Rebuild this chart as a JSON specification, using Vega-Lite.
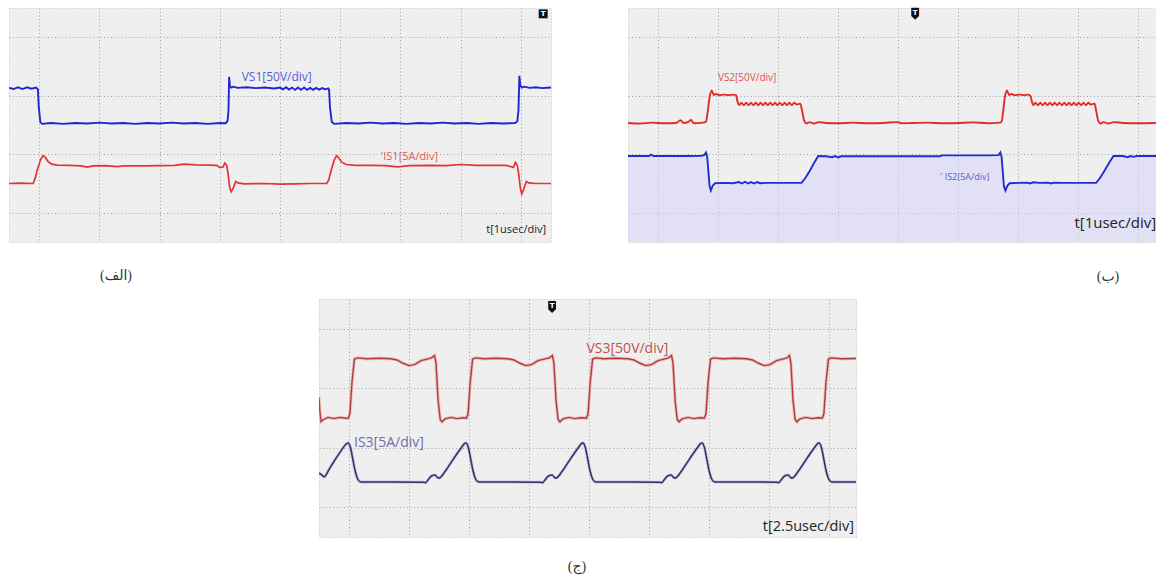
{
  "$schema": "https://vega.github.io/schema/vega-lite/v6.json",
  "padding": {"left": 8, "top": 7, "right": 0, "bottom": 0},
  "background": "white",
  "spacing": 13,
  "datasets": {
    "pa": [
      {"s":"VS1","x":0,"y":5.27},{"s":"VS1","x":0.15,"y":5.23},{"s":"VS1","x":0.3,"y":5.29},{"s":"VS1","x":0.45,"y":5.23},{"s":"VS1","x":0.6,"y":5.29},{"s":"VS1","x":0.75,"y":5.24},{"s":"VS1","x":0.9,"y":5.28},{"s":"VS1","x":0.96,"y":5.22},{"s":"VS1","x":0.99,"y":4.6},{"s":"VS1","x":1.04,"y":4.1},{"s":"VS1","x":1.1,"y":4.04},{"s":"VS1","x":1.4,"y":4.07},{"s":"VS1","x":1.8,"y":4.04},{"s":"VS1","x":2.2,"y":4.07},{"s":"VS1","x":2.6,"y":4.05},{"s":"VS1","x":3.0,"y":4.08},{"s":"VS1","x":3.4,"y":4.05},{"s":"VS1","x":3.8,"y":4.07},{"s":"VS1","x":4.2,"y":4.04},{"s":"VS1","x":4.6,"y":4.07},{"s":"VS1","x":5.0,"y":4.05},{"s":"VS1","x":5.4,"y":4.08},{"s":"VS1","x":5.8,"y":4.05},{"s":"VS1","x":6.2,"y":4.07},{"s":"VS1","x":6.6,"y":4.04},{"s":"VS1","x":7.0,"y":4.07},{"s":"VS1","x":7.2,"y":4.06},{"s":"VS1","x":7.26,"y":4.15},{"s":"VS1","x":7.29,"y":4.5},{"s":"VS1","x":7.31,"y":5.65},{"s":"VS1","x":7.34,"y":5.32},{"s":"VS1","x":7.38,"y":5.28},{"s":"VS1","x":7.45,"y":5.31},{"s":"VS1","x":7.6,"y":5.27},{"s":"VS1","x":7.9,"y":5.29},{"s":"VS1","x":8.2,"y":5.26},{"s":"VS1","x":8.5,"y":5.28},{"s":"VS1","x":8.8,"y":5.25},{"s":"VS1","x":9.0,"y":5.28},{"s":"VS1","x":9.1,"y":5.22},{"s":"VS1","x":9.2,"y":5.29},{"s":"VS1","x":9.3,"y":5.21},{"s":"VS1","x":9.4,"y":5.28},{"s":"VS1","x":9.5,"y":5.2},{"s":"VS1","x":9.6,"y":5.28},{"s":"VS1","x":9.7,"y":5.2},{"s":"VS1","x":9.8,"y":5.28},{"s":"VS1","x":9.9,"y":5.2},{"s":"VS1","x":10.0,"y":5.27},{"s":"VS1","x":10.1,"y":5.2},{"s":"VS1","x":10.2,"y":5.27},{"s":"VS1","x":10.3,"y":5.21},{"s":"VS1","x":10.4,"y":5.26},{"s":"VS1","x":10.5,"y":5.22},{"s":"VS1","x":10.6,"y":5.25},{"s":"VS1","x":10.63,"y":5.2},{"s":"VS1","x":10.66,"y":4.6},{"s":"VS1","x":10.72,"y":4.1},{"s":"VS1","x":10.8,"y":4.04},{"s":"VS1","x":11.2,"y":4.07},{"s":"VS1","x":11.6,"y":4.05},{"s":"VS1","x":12.0,"y":4.08},{"s":"VS1","x":12.4,"y":4.05},{"s":"VS1","x":12.8,"y":4.07},{"s":"VS1","x":13.2,"y":4.04},{"s":"VS1","x":13.6,"y":4.07},{"s":"VS1","x":14.0,"y":4.05},{"s":"VS1","x":14.4,"y":4.08},{"s":"VS1","x":14.8,"y":4.05},{"s":"VS1","x":15.2,"y":4.07},{"s":"VS1","x":15.6,"y":4.04},{"s":"VS1","x":16.0,"y":4.07},{"s":"VS1","x":16.4,"y":4.05},{"s":"VS1","x":16.8,"y":4.07},{"s":"VS1","x":16.88,"y":4.12},{"s":"VS1","x":16.92,"y":4.5},{"s":"VS1","x":16.95,"y":5.68},{"s":"VS1","x":16.98,"y":5.35},{"s":"VS1","x":17.03,"y":5.28},{"s":"VS1","x":17.1,"y":5.31},{"s":"VS1","x":17.3,"y":5.27},{"s":"VS1","x":17.5,"y":5.29},{"s":"VS1","x":17.7,"y":5.26},{"s":"VS1","x":18,"y":5.28},
      {"s":"IS1","x":0,"y":2.0},{"s":"IS1","x":0.4,"y":2.01},{"s":"IS1","x":0.8,"y":2.0},{"s":"IS1","x":0.86,"y":2.15},{"s":"IS1","x":0.95,"y":2.5},{"s":"IS1","x":1.05,"y":2.82},{"s":"IS1","x":1.13,"y":2.95},{"s":"IS1","x":1.2,"y":2.9},{"s":"IS1","x":1.3,"y":2.75},{"s":"IS1","x":1.42,"y":2.66},{"s":"IS1","x":1.6,"y":2.63},{"s":"IS1","x":2.0,"y":2.62},{"s":"IS1","x":2.4,"y":2.6},{"s":"IS1","x":2.6,"y":2.56},{"s":"IS1","x":2.8,"y":2.6},{"s":"IS1","x":3.2,"y":2.61},{"s":"IS1","x":3.6,"y":2.58},{"s":"IS1","x":3.8,"y":2.6},{"s":"IS1","x":4.5,"y":2.6},{"s":"IS1","x":5.0,"y":2.61},{"s":"IS1","x":5.5,"y":2.62},{"s":"IS1","x":5.8,"y":2.66},{"s":"IS1","x":6.2,"y":2.64},{"s":"IS1","x":6.6,"y":2.63},{"s":"IS1","x":6.9,"y":2.62},{"s":"IS1","x":7.0,"y":2.55},{"s":"IS1","x":7.1,"y":2.56},{"s":"IS1","x":7.17,"y":2.7},{"s":"IS1","x":7.23,"y":2.62},{"s":"IS1","x":7.28,"y":2.3},{"s":"IS1","x":7.33,"y":1.85},{"s":"IS1","x":7.38,"y":1.72},{"s":"IS1","x":7.45,"y":1.85},{"s":"IS1","x":7.53,"y":2.07},{"s":"IS1","x":7.6,"y":2.02},{"s":"IS1","x":7.8,"y":1.99},{"s":"IS1","x":8.5,"y":2.0},{"s":"IS1","x":9.0,"y":1.98},{"s":"IS1","x":9.5,"y":1.99},{"s":"IS1","x":10.0,"y":2.0},{"s":"IS1","x":10.55,"y":2.0},{"s":"IS1","x":10.62,"y":2.12},{"s":"IS1","x":10.7,"y":2.45},{"s":"IS1","x":10.8,"y":2.8},{"s":"IS1","x":10.88,"y":2.95},{"s":"IS1","x":10.95,"y":2.88},{"s":"IS1","x":11.05,"y":2.73},{"s":"IS1","x":11.2,"y":2.65},{"s":"IS1","x":11.5,"y":2.62},{"s":"IS1","x":12.0,"y":2.62},{"s":"IS1","x":12.5,"y":2.61},{"s":"IS1","x":12.9,"y":2.57},{"s":"IS1","x":13.3,"y":2.61},{"s":"IS1","x":14.0,"y":2.62},{"s":"IS1","x":14.5,"y":2.61},{"s":"IS1","x":15.0,"y":2.65},{"s":"IS1","x":15.5,"y":2.62},{"s":"IS1","x":16.0,"y":2.62},{"s":"IS1","x":16.5,"y":2.62},{"s":"IS1","x":16.65,"y":2.58},{"s":"IS1","x":16.75,"y":2.55},{"s":"IS1","x":16.82,"y":2.72},{"s":"IS1","x":16.88,"y":2.62},{"s":"IS1","x":16.93,"y":2.3},{"s":"IS1","x":16.98,"y":1.85},{"s":"IS1","x":17.03,"y":1.64},{"s":"IS1","x":17.1,"y":1.82},{"s":"IS1","x":17.18,"y":2.07},{"s":"IS1","x":17.26,"y":2.02},{"s":"IS1","x":17.5,"y":2.0},{"s":"IS1","x":18,"y":2.0}
    ],
    "pb": [
      {"s":"VS2","x":0,"y":4.07},{"s":"VS2","x":0.4,"y":4.05},{"s":"VS2","x":0.8,"y":4.08},{"s":"VS2","x":1.2,"y":4.06},{"s":"VS2","x":1.6,"y":4.07},{"s":"VS2","x":1.75,"y":4.16},{"s":"VS2","x":1.85,"y":4.07},{"s":"VS2","x":2.0,"y":4.1},{"s":"VS2","x":2.1,"y":4.17},{"s":"VS2","x":2.2,"y":4.06},{"s":"VS2","x":2.5,"y":4.08},{"s":"VS2","x":2.6,"y":4.12},{"s":"VS2","x":2.65,"y":4.4},{"s":"VS2","x":2.72,"y":4.95},{"s":"VS2","x":2.79,"y":5.18},{"s":"VS2","x":2.86,"y":5.02},{"s":"VS2","x":2.93,"y":5.06},{"s":"VS2","x":3.05,"y":5.02},{"s":"VS2","x":3.2,"y":5.04},{"s":"VS2","x":3.35,"y":5.02},{"s":"VS2","x":3.5,"y":5.04},{"s":"VS2","x":3.6,"y":5.02},{"s":"VS2","x":3.64,"y":4.85},{"s":"VS2","x":3.7,"y":4.68},{"s":"VS2","x":3.78,"y":4.76},{"s":"VS2","x":3.86,"y":4.68},{"s":"VS2","x":3.94,"y":4.76},{"s":"VS2","x":4.02,"y":4.68},{"s":"VS2","x":4.1,"y":4.76},{"s":"VS2","x":4.18,"y":4.68},{"s":"VS2","x":4.26,"y":4.76},{"s":"VS2","x":4.34,"y":4.68},{"s":"VS2","x":4.42,"y":4.76},{"s":"VS2","x":4.5,"y":4.68},{"s":"VS2","x":4.58,"y":4.76},{"s":"VS2","x":4.66,"y":4.68},{"s":"VS2","x":4.74,"y":4.76},{"s":"VS2","x":4.82,"y":4.68},{"s":"VS2","x":4.9,"y":4.76},{"s":"VS2","x":4.98,"y":4.68},{"s":"VS2","x":5.06,"y":4.76},{"s":"VS2","x":5.14,"y":4.68},{"s":"VS2","x":5.22,"y":4.76},{"s":"VS2","x":5.3,"y":4.68},{"s":"VS2","x":5.38,"y":4.76},{"s":"VS2","x":5.46,"y":4.68},{"s":"VS2","x":5.54,"y":4.76},{"s":"VS2","x":5.62,"y":4.7},{"s":"VS2","x":5.74,"y":4.73},{"s":"VS2","x":5.8,"y":4.5},{"s":"VS2","x":5.87,"y":4.15},{"s":"VS2","x":5.95,"y":4.05},{"s":"VS2","x":6.05,"y":4.1},{"s":"VS2","x":6.2,"y":4.05},{"s":"VS2","x":6.35,"y":4.1},{"s":"VS2","x":6.6,"y":4.07},{"s":"VS2","x":7.0,"y":4.06},{"s":"VS2","x":7.5,"y":4.08},{"s":"VS2","x":8.0,"y":4.06},{"s":"VS2","x":8.5,"y":4.07},{"s":"VS2","x":9.0,"y":4.1},{"s":"VS2","x":9.1,"y":4.06},{"s":"VS2","x":9.5,"y":4.07},{"s":"VS2","x":10.0,"y":4.08},{"s":"VS2","x":10.5,"y":4.06},{"s":"VS2","x":11.0,"y":4.07},{"s":"VS2","x":11.5,"y":4.09},{"s":"VS2","x":12.0,"y":4.06},{"s":"VS2","x":12.4,"y":4.08},{"s":"VS2","x":12.46,"y":4.15},{"s":"VS2","x":12.5,"y":4.45},{"s":"VS2","x":12.56,"y":4.95},{"s":"VS2","x":12.63,"y":5.18},{"s":"VS2","x":12.7,"y":5.02},{"s":"VS2","x":12.77,"y":5.06},{"s":"VS2","x":12.9,"y":5.02},{"s":"VS2","x":13.05,"y":5.04},{"s":"VS2","x":13.2,"y":5.02},{"s":"VS2","x":13.35,"y":5.04},{"s":"VS2","x":13.41,"y":5.0},{"s":"VS2","x":13.45,"y":4.85},{"s":"VS2","x":13.5,"y":4.68},{"s":"VS2","x":13.58,"y":4.76},{"s":"VS2","x":13.66,"y":4.68},{"s":"VS2","x":13.74,"y":4.76},{"s":"VS2","x":13.82,"y":4.68},{"s":"VS2","x":13.9,"y":4.76},{"s":"VS2","x":13.98,"y":4.68},{"s":"VS2","x":14.06,"y":4.76},{"s":"VS2","x":14.14,"y":4.68},{"s":"VS2","x":14.22,"y":4.76},{"s":"VS2","x":14.3,"y":4.68},{"s":"VS2","x":14.38,"y":4.76},{"s":"VS2","x":14.46,"y":4.68},{"s":"VS2","x":14.54,"y":4.76},{"s":"VS2","x":14.62,"y":4.68},{"s":"VS2","x":14.7,"y":4.76},{"s":"VS2","x":14.78,"y":4.68},{"s":"VS2","x":14.86,"y":4.76},{"s":"VS2","x":14.94,"y":4.68},{"s":"VS2","x":15.02,"y":4.76},{"s":"VS2","x":15.1,"y":4.68},{"s":"VS2","x":15.18,"y":4.76},{"s":"VS2","x":15.26,"y":4.68},{"s":"VS2","x":15.34,"y":4.76},{"s":"VS2","x":15.42,"y":4.7},{"s":"VS2","x":15.55,"y":4.73},{"s":"VS2","x":15.6,"y":4.5},{"s":"VS2","x":15.67,"y":4.15},{"s":"VS2","x":15.75,"y":4.05},{"s":"VS2","x":15.85,"y":4.1},{"s":"VS2","x":16.0,"y":4.05},{"s":"VS2","x":16.2,"y":4.1},{"s":"VS2","x":16.5,"y":4.07},{"s":"VS2","x":17.0,"y":4.06},{"s":"VS2","x":17.63,"y":4.07},
      {"s":"IS2","x":0,"y":2.94},{"s":"IS2","x":0.5,"y":2.94},{"s":"IS2","x":0.7,"y":2.94},{"s":"IS2","x":0.77,"y":2.99},{"s":"IS2","x":0.85,"y":2.94},{"s":"IS2","x":1.5,"y":2.94},{"s":"IS2","x":2.0,"y":2.94},{"s":"IS2","x":2.45,"y":2.95},{"s":"IS2","x":2.55,"y":2.98},{"s":"IS2","x":2.6,"y":3.06},{"s":"IS2","x":2.64,"y":2.92},{"s":"IS2","x":2.68,"y":2.4},{"s":"IS2","x":2.72,"y":1.9},{"s":"IS2","x":2.76,"y":1.76},{"s":"IS2","x":2.82,"y":1.92},{"s":"IS2","x":2.9,"y":2.01},{"s":"IS2","x":3.2,"y":2.02},{"s":"IS2","x":3.5,"y":2.01},{"s":"IS2","x":3.7,"y":2.05},{"s":"IS2","x":3.8,"y":2.0},{"s":"IS2","x":3.9,"y":2.06},{"s":"IS2","x":4.0,"y":2.0},{"s":"IS2","x":4.1,"y":2.05},{"s":"IS2","x":4.2,"y":2.0},{"s":"IS2","x":4.3,"y":2.05},{"s":"IS2","x":4.4,"y":2.01},{"s":"IS2","x":4.6,"y":2.02},{"s":"IS2","x":5.0,"y":2.02},{"s":"IS2","x":5.4,"y":2.02},{"s":"IS2","x":5.78,"y":2.02},{"s":"IS2","x":5.9,"y":2.17},{"s":"IS2","x":6.05,"y":2.42},{"s":"IS2","x":6.2,"y":2.7},{"s":"IS2","x":6.34,"y":2.94},{"s":"IS2","x":6.6,"y":2.93},{"s":"IS2","x":6.8,"y":2.9},{"s":"IS2","x":6.9,"y":2.94},{"s":"IS2","x":7.0,"y":2.89},{"s":"IS2","x":7.1,"y":2.93},{"s":"IS2","x":7.5,"y":2.93},{"s":"IS2","x":8.0,"y":2.93},{"s":"IS2","x":8.5,"y":2.93},{"s":"IS2","x":9.0,"y":2.93},{"s":"IS2","x":9.5,"y":2.93},{"s":"IS2","x":10.0,"y":2.93},{"s":"IS2","x":10.4,"y":2.93},{"s":"IS2","x":10.45,"y":2.96},{"s":"IS2","x":11.0,"y":2.96},{"s":"IS2","x":11.5,"y":2.96},{"s":"IS2","x":12.0,"y":2.96},{"s":"IS2","x":12.35,"y":2.97},{"s":"IS2","x":12.41,"y":3.06},{"s":"IS2","x":12.45,"y":2.92},{"s":"IS2","x":12.49,"y":2.4},{"s":"IS2","x":12.53,"y":1.9},{"s":"IS2","x":12.58,"y":1.76},{"s":"IS2","x":12.64,"y":1.92},{"s":"IS2","x":12.72,"y":2.01},{"s":"IS2","x":13.0,"y":2.02},{"s":"IS2","x":13.3,"y":2.03},{"s":"IS2","x":13.4,"y":2.0},{"s":"IS2","x":13.5,"y":2.04},{"s":"IS2","x":13.7,"y":2.02},{"s":"IS2","x":14.0,"y":2.03},{"s":"IS2","x":14.1,"y":2.0},{"s":"IS2","x":14.2,"y":2.03},{"s":"IS2","x":14.5,"y":2.02},{"s":"IS2","x":15.0,"y":2.02},{"s":"IS2","x":15.6,"y":2.02},{"s":"IS2","x":15.72,"y":2.17},{"s":"IS2","x":15.87,"y":2.42},{"s":"IS2","x":16.03,"y":2.7},{"s":"IS2","x":16.18,"y":2.94},{"s":"IS2","x":16.5,"y":2.94},{"s":"IS2","x":16.65,"y":2.9},{"s":"IS2","x":16.75,"y":2.94},{"s":"IS2","x":16.85,"y":2.91},{"s":"IS2","x":16.95,"y":2.94},{"s":"IS2","x":17.63,"y":2.94}
    ],
    "pc": [
      {"s":"VS3","x":0,"y":4.7},{"s":"VS3","x":0.03,"y":4.2},{"s":"VS3","x":0.07,"y":3.88},{"s":"VS3","x":0.15,"y":3.95},{"s":"VS3","x":0.3,"y":4.02},{"s":"VS3","x":0.5,"y":3.98},{"s":"VS3","x":0.7,"y":4.02},{"s":"VS3","x":0.9,"y":3.99},{"s":"VS3","x":0.98,"y":4.0},
      {"s":"VS3","x":1.03,"y":4.15},{"s":"VS3","x":1.1,"y":5.2},{"s":"VS3","x":1.18,"y":5.98},{"s":"VS3","x":1.28,"y":6.02},{"s":"VS3","x":1.6,"y":5.99},{"s":"VS3","x":2.0,"y":6.01},{"s":"VS3","x":2.4,"y":5.99},{"s":"VS3","x":2.6,"y":5.95},{"s":"VS3","x":2.8,"y":5.84},{"s":"VS3","x":3.0,"y":5.76},{"s":"VS3","x":3.2,"y":5.8},{"s":"VS3","x":3.4,"y":5.93},{"s":"VS3","x":3.6,"y":5.98},{"s":"VS3","x":3.75,"y":6.02},{"s":"VS3","x":3.85,"y":6.1},{"s":"VS3","x":3.9,"y":5.85},{"s":"VS3","x":3.97,"y":4.6},{"s":"VS3","x":4.04,"y":3.95},{"s":"VS3","x":4.1,"y":3.87},{"s":"VS3","x":4.2,"y":3.97},{"s":"VS3","x":4.4,"y":4.02},{"s":"VS3","x":4.6,"y":3.98},{"s":"VS3","x":4.8,"y":4.01},{"s":"VS3","x":4.92,"y":4.0},
      {"s":"VS3","x":4.97,"y":4.15},{"s":"VS3","x":5.04,"y":5.2},{"s":"VS3","x":5.12,"y":5.98},{"s":"VS3","x":5.22,"y":6.02},{"s":"VS3","x":5.5,"y":5.99},{"s":"VS3","x":5.9,"y":6.01},{"s":"VS3","x":6.3,"y":5.99},{"s":"VS3","x":6.5,"y":5.95},{"s":"VS3","x":6.7,"y":5.84},{"s":"VS3","x":6.9,"y":5.76},{"s":"VS3","x":7.1,"y":5.8},{"s":"VS3","x":7.3,"y":5.93},{"s":"VS3","x":7.5,"y":5.98},{"s":"VS3","x":7.68,"y":6.02},{"s":"VS3","x":7.78,"y":6.1},{"s":"VS3","x":7.83,"y":5.85},{"s":"VS3","x":7.9,"y":4.6},{"s":"VS3","x":7.97,"y":3.95},{"s":"VS3","x":8.03,"y":3.87},{"s":"VS3","x":8.13,"y":3.97},{"s":"VS3","x":8.33,"y":4.02},{"s":"VS3","x":8.53,"y":3.98},{"s":"VS3","x":8.73,"y":4.01},{"s":"VS3","x":8.92,"y":4.0},
      {"s":"VS3","x":8.97,"y":4.15},{"s":"VS3","x":9.04,"y":5.2},{"s":"VS3","x":9.12,"y":5.98},{"s":"VS3","x":9.22,"y":6.02},{"s":"VS3","x":9.5,"y":5.99},{"s":"VS3","x":9.9,"y":6.01},{"s":"VS3","x":10.3,"y":5.99},{"s":"VS3","x":10.5,"y":5.95},{"s":"VS3","x":10.7,"y":5.84},{"s":"VS3","x":10.9,"y":5.76},{"s":"VS3","x":11.1,"y":5.8},{"s":"VS3","x":11.3,"y":5.93},{"s":"VS3","x":11.5,"y":5.98},{"s":"VS3","x":11.65,"y":6.02},{"s":"VS3","x":11.75,"y":6.1},{"s":"VS3","x":11.8,"y":5.85},{"s":"VS3","x":11.87,"y":4.6},{"s":"VS3","x":11.94,"y":3.95},{"s":"VS3","x":12.0,"y":3.87},{"s":"VS3","x":12.1,"y":3.97},{"s":"VS3","x":12.3,"y":4.02},{"s":"VS3","x":12.5,"y":3.98},{"s":"VS3","x":12.7,"y":4.01},{"s":"VS3","x":12.85,"y":4.0},
      {"s":"VS3","x":12.9,"y":4.15},{"s":"VS3","x":12.97,"y":5.2},{"s":"VS3","x":13.05,"y":5.98},{"s":"VS3","x":13.15,"y":6.02},{"s":"VS3","x":13.45,"y":5.99},{"s":"VS3","x":13.85,"y":6.01},{"s":"VS3","x":14.25,"y":5.99},{"s":"VS3","x":14.45,"y":5.95},{"s":"VS3","x":14.65,"y":5.84},{"s":"VS3","x":14.85,"y":5.76},{"s":"VS3","x":15.05,"y":5.8},{"s":"VS3","x":15.25,"y":5.93},{"s":"VS3","x":15.45,"y":5.98},{"s":"VS3","x":15.6,"y":6.02},{"s":"VS3","x":15.68,"y":6.1},{"s":"VS3","x":15.73,"y":5.85},{"s":"VS3","x":15.8,"y":4.6},{"s":"VS3","x":15.87,"y":3.95},{"s":"VS3","x":15.93,"y":3.87},{"s":"VS3","x":16.03,"y":3.97},{"s":"VS3","x":16.23,"y":4.02},{"s":"VS3","x":16.43,"y":3.98},{"s":"VS3","x":16.63,"y":4.01},{"s":"VS3","x":16.78,"y":4.0},
      {"s":"VS3","x":16.83,"y":4.15},{"s":"VS3","x":16.9,"y":5.2},{"s":"VS3","x":16.98,"y":5.98},{"s":"VS3","x":17.08,"y":6.02},{"s":"VS3","x":17.4,"y":5.99},{"s":"VS3","x":17.9,"y":6.0},
      {"s":"IS3","x":0,"y":2.15},{"s":"IS3","x":0.08,"y":2.1},{"s":"IS3","x":0.17,"y":2.02},{"s":"IS3","x":0.35,"y":2.3},{"s":"IS3","x":0.55,"y":2.62},{"s":"IS3","x":0.75,"y":2.92},{"s":"IS3","x":0.88,"y":3.1},{"s":"IS3","x":0.97,"y":3.16},{"s":"IS3","x":1.05,"y":3.0},{"s":"IS3","x":1.13,"y":2.6},{"s":"IS3","x":1.21,"y":2.2},{"s":"IS3","x":1.29,"y":1.95},{"s":"IS3","x":1.37,"y":1.86},{"s":"IS3","x":1.5,"y":1.85},
      {"s":"IS3","x":2.5,"y":1.85},{"s":"IS3","x":3.5,"y":1.84},{"s":"IS3","x":3.55,"y":1.82},{"s":"IS3","x":3.62,"y":1.9},{"s":"IS3","x":3.75,"y":2.05},{"s":"IS3","x":3.87,"y":2.08},{"s":"IS3","x":3.95,"y":2.0},{"s":"IS3","x":4.0,"y":1.98},{"s":"IS3","x":4.2,"y":2.2},{"s":"IS3","x":4.4,"y":2.5},{"s":"IS3","x":4.6,"y":2.8},{"s":"IS3","x":4.78,"y":3.05},{"s":"IS3","x":4.86,"y":3.15},{"s":"IS3","x":4.9,"y":3.16},{"s":"IS3","x":4.98,"y":3.0},{"s":"IS3","x":5.06,"y":2.6},{"s":"IS3","x":5.14,"y":2.2},{"s":"IS3","x":5.22,"y":1.95},{"s":"IS3","x":5.3,"y":1.86},{"s":"IS3","x":5.43,"y":1.85},
      {"s":"IS3","x":6.5,"y":1.85},{"s":"IS3","x":7.4,"y":1.84},{"s":"IS3","x":7.45,"y":1.82},{"s":"IS3","x":7.52,"y":1.9},{"s":"IS3","x":7.65,"y":2.05},{"s":"IS3","x":7.77,"y":2.08},{"s":"IS3","x":7.85,"y":2.0},{"s":"IS3","x":7.9,"y":1.98},{"s":"IS3","x":8.1,"y":2.2},{"s":"IS3","x":8.3,"y":2.5},{"s":"IS3","x":8.5,"y":2.8},{"s":"IS3","x":8.68,"y":3.05},{"s":"IS3","x":8.76,"y":3.15},{"s":"IS3","x":8.8,"y":3.16},{"s":"IS3","x":8.88,"y":3.0},{"s":"IS3","x":8.96,"y":2.6},{"s":"IS3","x":9.04,"y":2.2},{"s":"IS3","x":9.12,"y":1.95},{"s":"IS3","x":9.2,"y":1.86},{"s":"IS3","x":9.33,"y":1.85},
      {"s":"IS3","x":10.5,"y":1.85},{"s":"IS3","x":11.37,"y":1.84},{"s":"IS3","x":11.42,"y":1.82},{"s":"IS3","x":11.49,"y":1.9},{"s":"IS3","x":11.62,"y":2.05},{"s":"IS3","x":11.74,"y":2.08},{"s":"IS3","x":11.82,"y":2.0},{"s":"IS3","x":11.87,"y":1.98},{"s":"IS3","x":12.07,"y":2.2},{"s":"IS3","x":12.27,"y":2.5},{"s":"IS3","x":12.47,"y":2.8},{"s":"IS3","x":12.65,"y":3.05},{"s":"IS3","x":12.73,"y":3.15},{"s":"IS3","x":12.77,"y":3.16},{"s":"IS3","x":12.85,"y":3.0},{"s":"IS3","x":12.93,"y":2.6},{"s":"IS3","x":13.01,"y":2.2},{"s":"IS3","x":13.09,"y":1.95},{"s":"IS3","x":13.17,"y":1.86},{"s":"IS3","x":13.3,"y":1.85},
      {"s":"IS3","x":14.5,"y":1.85},{"s":"IS3","x":15.27,"y":1.84},{"s":"IS3","x":15.32,"y":1.82},{"s":"IS3","x":15.39,"y":1.9},{"s":"IS3","x":15.52,"y":2.05},{"s":"IS3","x":15.64,"y":2.08},{"s":"IS3","x":15.72,"y":2.0},{"s":"IS3","x":15.77,"y":1.98},{"s":"IS3","x":15.97,"y":2.2},{"s":"IS3","x":16.17,"y":2.5},{"s":"IS3","x":16.37,"y":2.8},{"s":"IS3","x":16.55,"y":3.05},{"s":"IS3","x":16.63,"y":3.15},{"s":"IS3","x":16.67,"y":3.16},{"s":"IS3","x":16.75,"y":3.0},{"s":"IS3","x":16.83,"y":2.6},{"s":"IS3","x":16.91,"y":2.2},{"s":"IS3","x":16.99,"y":1.95},{"s":"IS3","x":17.07,"y":1.86},{"s":"IS3","x":17.2,"y":1.85},{"s":"IS3","x":17.9,"y":1.85}
    ]
  },
  "vconcat": [
    {
      "bounds": "flush",
      "spacing": 77,
      "hconcat": [
        {
          "width": 542, "height": 234,
          "title": {"text": "(الف)", "orient": "bottom", "anchor": "start", "align": "center", "dx": 107, "offset": 34, "baseline": "middle", "font": "Liberation Serif, DejaVu Sans", "fontSize": 14, "fontWeight": "normal", "color": "#333333"},
          "layer": [
            {"data": {"name": "pa"}, "transform": [{"filter": "datum.s === 'VS1'"}], "mark": {"type": "line", "color": "#2222d6", "strokeWidth": 1.9, "clip": true},
             "encoding": {"x": {"field": "x", "type": "quantitative", "scale": {"domain": [0, 18], "nice": false}, "axis": {"title": null, "values": [1,2,3,4,5,6,7,8,9,10,11,12,13,14,15,16,17]}}, "y": {"field": "y", "type": "quantitative", "scale": {"domain": [0, 8], "nice": false}, "axis": {"title": null, "values": [1,2,3,4,5,6,7]}}}},
            {"data": {"name": "pa"}, "transform": [{"filter": "datum.s === 'IS1'"}], "mark": {"type": "line", "color": "#e23434", "strokeWidth": 1.7, "clip": true},
             "encoding": {"x": {"field": "x", "type": "quantitative"}, "y": {"field": "y", "type": "quantitative"}}},
            {"data": {"values": [{"k": 1}]}, "mark": {"type": "text", "text": "VS1[50V/div]", "color": "#5a5ad6", "font": "Open Sans", "fontSize": 12, "align": "center", "baseline": "middle"}, "encoding": {"x": {"datum": 8.89, "type": "quantitative"}, "y": {"datum": 5.64, "type": "quantitative"}}},
            {"data": {"values": [{"k": 1}]}, "mark": {"type": "text", "text": "'IS1[5A/div]", "color": "#e45858", "font": "Open Sans", "fontSize": 11, "align": "center", "baseline": "middle"}, "encoding": {"x": {"datum": 13.3, "type": "quantitative"}, "y": {"datum": 2.91, "type": "quantitative"}}},
            {"data": {"values": [{"k": 1}]}, "mark": {"type": "text", "text": "t[1usec/div]", "color": "#222222", "font": "Open Sans", "fontSize": 11, "align": "right", "baseline": "middle"}, "encoding": {"x": {"datum": 17.84, "type": "quantitative"}, "y": {"datum": 0.41, "type": "quantitative"}}},
            {"data": {"values": [{"k": 1}]}, "mark": {"type": "point", "shape": "square", "filled": true, "color": "#111111", "opacity": 1, "size": 80}, "encoding": {"x": {"datum": 17.74, "type": "quantitative"}, "y": {"datum": 7.8, "type": "quantitative"}}},
            {"data": {"values": [{"k": 1}]}, "mark": {"type": "text", "text": "T", "color": "white", "font": "DejaVu Sans", "fontWeight": "bold", "fontSize": 7, "align": "center", "baseline": "middle"}, "encoding": {"x": {"datum": 17.74, "type": "quantitative"}, "y": {"datum": 7.8, "type": "quantitative"}}}
          ]
        },
        {
          "width": 529, "height": 234,
          "title": {"text": "(ب)", "orient": "bottom", "anchor": "start", "align": "center", "dx": 480, "offset": 35, "baseline": "middle", "font": "Liberation Serif, DejaVu Sans", "fontSize": 14, "fontWeight": "normal", "color": "#333333"},
          "layer": [
            {"data": {"name": "pb"}, "transform": [{"filter": "datum.s === 'IS2'"}], "mark": {"type": "area", "color": "#d6d4f8", "opacity": 0.55, "clip": true},
             "encoding": {"x": {"field": "x", "type": "quantitative", "scale": {"domain": [0, 17.63], "nice": false}, "axis": {"title": null, "values": [1,2,3,4,5,6,7,8,9,10,11,12,13,14,15,16,17]}}, "y": {"field": "y", "type": "quantitative", "scale": {"domain": [0, 8], "nice": false}, "axis": {"title": null, "values": [1,2,3,4,5,6,7]}}}},
            {"data": {"name": "pb"}, "transform": [{"filter": "datum.s === 'VS2'"}], "mark": {"type": "line", "color": "#e22a2a", "strokeWidth": 1.9, "clip": true, "interpolate": "monotone"},
             "encoding": {"x": {"field": "x", "type": "quantitative"}, "y": {"field": "y", "type": "quantitative"}}},
            {"data": {"name": "pb"}, "transform": [{"filter": "datum.s === 'IS2'"}], "mark": {"type": "line", "color": "#1f2ed2", "strokeWidth": 1.9, "clip": true},
             "encoding": {"x": {"field": "x", "type": "quantitative"}, "y": {"field": "y", "type": "quantitative"}}},
            {"data": {"values": [{"k": 1}]}, "mark": {"type": "text", "text": "VS2[50V/div]", "color": "#e25050", "font": "Open Sans", "fontSize": 10, "align": "center", "baseline": "middle"}, "encoding": {"x": {"datum": 3.97, "type": "quantitative"}, "y": {"datum": 5.61, "type": "quantitative"}}},
            {"data": {"values": [{"k": 1}]}, "mark": {"type": "text", "text": "' IS2[5A/div]", "color": "#5a60d0", "font": "Open Sans", "fontSize": 9, "align": "center", "baseline": "middle"}, "encoding": {"x": {"datum": 11.23, "type": "quantitative"}, "y": {"datum": 2.22, "type": "quantitative"}}},
            {"data": {"values": [{"k": 1}]}, "mark": {"type": "text", "text": "t[1usec/div]", "color": "#222222", "font": "Open Sans", "fontSize": 15, "align": "right", "baseline": "middle"}, "encoding": {"x": {"datum": 17.6, "type": "quantitative"}, "y": {"datum": 0.65, "type": "quantitative"}}},
            {"data": {"values": [{"k": 1}]}, "mark": {"type": "point", "shape": "M-0.65,-1L0.65,-1L0.65,0.35L0,1L-0.65,0.35Z", "filled": true, "color": "#111111", "opacity": 1, "size": 144}, "encoding": {"x": {"datum": 9.57, "type": "quantitative"}, "y": {"datum": 7.8, "type": "quantitative"}}},
            {"data": {"values": [{"k": 1}]}, "mark": {"type": "text", "text": "T", "color": "white", "font": "DejaVu Sans", "fontWeight": "bold", "fontSize": 7, "align": "center", "baseline": "middle", "dy": -1}, "encoding": {"x": {"datum": 9.57, "type": "quantitative"}, "y": {"datum": 7.8, "type": "quantitative"}}}
          ]
        }
      ]
    },
    {
      "bounds": "flush",
      "spacing": 10,
      "hconcat": [
        {
          "width": 300, "height": 20,
          "view": {"stroke": null, "fill": null},
          "data": {"values": [{"k": 1}]},
          "mark": {"type": "text", "text": ""},
          "encoding": {}
        },
        {
          "width": 537, "height": 238,
          "title": {"text": "(ج)", "orient": "bottom", "anchor": "start", "align": "center", "dx": 258, "offset": 30, "baseline": "middle", "font": "Liberation Serif, DejaVu Sans", "fontSize": 14, "fontWeight": "normal", "color": "#333333"},
          "layer": [
            {"data": {"name": "pc"}, "transform": [{"filter": "datum.s === 'VS3'"}], "mark": {"type": "line", "color": "#eaa0a0", "opacity": 0.6, "strokeWidth": 3.2, "clip": true},
             "encoding": {"x": {"field": "x", "type": "quantitative", "scale": {"domain": [0, 17.9], "nice": false}, "axis": {"title": null, "values": [1,2,3,4,5,6,7,8,9,10,11,12,13,14,15,16,17]}}, "y": {"field": "y", "type": "quantitative", "scale": {"domain": [0, 8], "nice": false}, "axis": {"title": null, "values": [1,2,3,4,5,6,7]}}}},
            {"data": {"name": "pc"}, "transform": [{"filter": "datum.s === 'VS3'"}], "mark": {"type": "line", "color": "#b03c3c", "strokeWidth": 1.4, "clip": true},
             "encoding": {"x": {"field": "x", "type": "quantitative"}, "y": {"field": "y", "type": "quantitative"}}},
            {"data": {"name": "pc"}, "transform": [{"filter": "datum.s === 'IS3'"}], "mark": {"type": "line", "color": "#9a9ac4", "opacity": 0.5, "strokeWidth": 3, "clip": true, "interpolate": "monotone"},
             "encoding": {"x": {"field": "x", "type": "quantitative"}, "y": {"field": "y", "type": "quantitative"}}},
            {"data": {"name": "pc"}, "transform": [{"filter": "datum.s === 'IS3'"}], "mark": {"type": "line", "color": "#30306c", "strokeWidth": 1.5, "clip": true, "interpolate": "monotone"},
             "encoding": {"x": {"field": "x", "type": "quantitative"}, "y": {"field": "y", "type": "quantitative"}}},
            {"data": {"values": [{"k": 1}]}, "mark": {"type": "text", "text": "VS3[50V/div]", "color": "#c25050", "font": "Open Sans", "fontSize": 14, "align": "center", "baseline": "middle"}, "encoding": {"x": {"datum": 10.28, "type": "quantitative"}, "y": {"datum": 6.32, "type": "quantitative"}}},
            {"data": {"values": [{"k": 1}]}, "mark": {"type": "text", "text": "IS3[5A/div]", "color": "#6c6ca8", "font": "Open Sans", "fontSize": 14, "align": "center", "baseline": "middle"}, "encoding": {"x": {"datum": 2.33, "type": "quantitative"}, "y": {"datum": 3.16, "type": "quantitative"}}},
            {"data": {"values": [{"k": 1}]}, "mark": {"type": "text", "text": "t[2.5usec/div]", "color": "#222222", "font": "Open Sans", "fontSize": 14.5, "align": "right", "baseline": "middle"}, "encoding": {"x": {"datum": 17.83, "type": "quantitative"}, "y": {"datum": 0.34, "type": "quantitative"}}},
            {"data": {"values": [{"k": 1}]}, "mark": {"type": "point", "shape": "M-0.65,-1L0.65,-1L0.65,0.35L0,1L-0.65,0.35Z", "filled": true, "color": "#111111", "opacity": 1, "size": 144}, "encoding": {"x": {"datum": 7.77, "type": "quantitative"}, "y": {"datum": 7.73, "type": "quantitative"}}},
            {"data": {"values": [{"k": 1}]}, "mark": {"type": "text", "text": "T", "color": "white", "font": "DejaVu Sans", "fontWeight": "bold", "fontSize": 7, "align": "center", "baseline": "middle", "dy": -1}, "encoding": {"x": {"datum": 7.77, "type": "quantitative"}, "y": {"datum": 7.73, "type": "quantitative"}}}
          ]
        }
      ]
    }
  ],
  "config": {
    "view": {"fill": "#efefef", "stroke": "#bcbcbc", "strokeDash": [1, 2]},
    "axis": {"labels": false, "ticks": false, "domain": false, "grid": true, "gridColor": "#a2a2a2", "gridDash": [1, 2.5], "gridWidth": 1}
  }
}
